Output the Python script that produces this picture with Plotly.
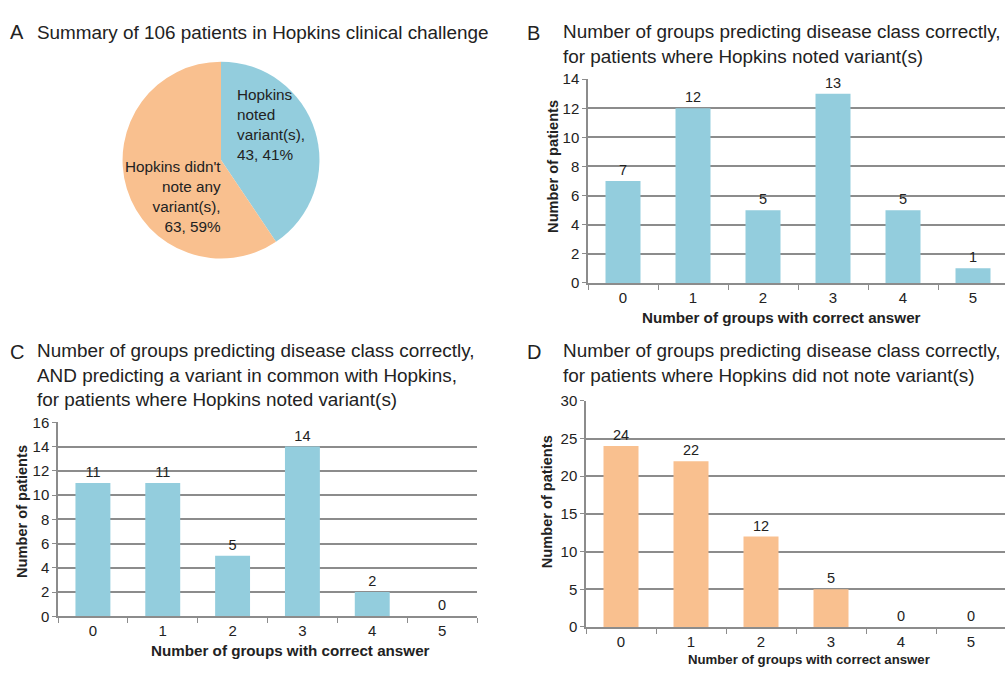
import plotly.graph_objects as go

# ---- data ----
pie_labels = ["Hopkins noted variant(s)", "Hopkins didn't note any variant(s)"]
pie_values = [43, 63]
pie_pct = ["41%", "59%"]

categories = [0, 1, 2, 3, 4, 5]
b_values = [7, 12, 5, 13, 5, 1]
c_values = [11, 11, 5, 14, 2, 0]
d_values = [24, 22, 12, 5, 0, 0]

title_a = "Summary of 106 patients in Hopkins clinical challenge"
title_b = "Number of groups predicting disease class correctly,<br>for patients where Hopkins noted variant(s)"
title_c = ("Number of groups predicting disease class correctly,<br>AND predicting a variant in common with Hopkins,"
           "<br>for patients where Hopkins noted variant(s)")
title_d = "Number of groups predicting disease class correctly,<br>for patients where Hopkins did not note variant(s)"
x_title = "Number of groups with correct answer"
y_title = "Number of patients"

BLUE = "#93CDDD"
ORANGE = "#F9C08F"
GRID = "#8c8c8c"
TXT = "#222222"
FONT = "Liberation Sans, Arial, Helvetica, sans-serif"

W, H = 1005, 673


def px(x):
    return x / W


def py(y):
    return 1 - y / H


fig = go.Figure()

# Pie
fig.add_trace(go.Pie(
    labels=pie_labels, values=pie_values, sort=False, direction="clockwise",
    rotation=0, marker=dict(colors=[BLUE, ORANGE], line=dict(width=0)),
    textinfo="none", hoverinfo="label+value+percent", showlegend=False,
    domain=dict(x=[px(120), px(322)], y=[py(256), py(54)]),
))

bar_specs = [
    (b_values, BLUE, "x", "y"),
    (c_values, BLUE, "x2", "y2"),
    (d_values, ORANGE, "x3", "y3"),
]
for vals, col, xa, ya in bar_specs:
    fig.add_trace(go.Bar(
        x=categories, y=vals, width=0.5, marker=dict(color=col, line=dict(width=0)),
        text=[str(v) for v in vals], textposition="outside", cliponaxis=False,
        textfont=dict(size=14.5, color=TXT, family=FONT), xaxis=xa, yaxis=ya,
        showlegend=False,
    ))

minor_ticks = [i - 0.5 for i in range(7)]


def xaxis_cfg(domain, rng, anchor):
    return dict(
        domain=domain, range=rng, anchor=anchor, tickmode="array", tickvals=categories,
        ticktext=[str(c) for c in categories], ticks="", showgrid=False, zeroline=False,
        showline=True, linecolor=GRID, linewidth=1.5,
        tickfont=dict(size=15, color=TXT, family=FONT),
        minor=dict(tickmode="array", tickvals=minor_ticks, ticks="outside", ticklen=5,
                   tickcolor=GRID, tickwidth=1.2, showgrid=False),
    )


def yaxis_cfg(domain, rng, dtick, anchor):
    return dict(
        domain=domain, range=rng, dtick=dtick, anchor=anchor, showgrid=True,
        gridcolor=GRID, gridwidth=1.5, zeroline=False, showline=True, linecolor=GRID,
        linewidth=1.5, ticks="outside", ticklen=4, tickcolor=GRID,
        tickfont=dict(size=15, color=TXT, family=FONT),
    )


fig.update_layout(
    width=W, height=H, margin=dict(l=0, r=0, t=0, b=0),
    paper_bgcolor="white", plot_bgcolor="white",
    font=dict(family=FONT, color=TXT),
    bargap=0.5,
    xaxis=xaxis_cfg([px(588), 1], [-0.5, -0.5 + 417 / 70], "y"),
    yaxis=yaxis_cfg([py(281), py(72)], [0, 14], 2, "x"),
    xaxis2=xaxis_cfg([px(58), px(477)], [-0.5, 5.5], "y2"),
    yaxis2=yaxis_cfg([py(623), py(424)], [0, 16], 2, "x2"),
    xaxis3=xaxis_cfg([px(586), 1], [-0.5, -0.5 + 419 / 70], "y3"),
    yaxis3=yaxis_cfg([py(634), py(402)], [0, 30], 5, "x3"),
)

ann = []


def add_text(x, y, text, size, xanchor="left", yanchor="middle", bold=False, angle=0, align="left"):
    if bold:
        text = "<b>" + text + "</b>"
    ann.append(dict(x=px(x), y=py(y), xref="paper", yref="paper", text=text, showarrow=False,
                    xanchor=xanchor, yanchor=yanchor, textangle=angle, align=align,
                    font=dict(size=size, color=TXT, family=FONT)))


# Panel letters and titles
TS = 18.9
add_text(8, 24, "A", 20)
add_text(35, 24, title_a, TS)
add_text(525, 25, "B", 20)
add_text(561, 36, title_b, TS)
add_text(8, 352, "C", 20)
add_text(35, 375, title_c, TS)
add_text(525, 352, "D", 20)
add_text(561, 363, title_d, TS)

# Pie labels
add_text(235, 119, "Hopkins<br>noted<br>variant(s),<br>%d, %s" % (pie_values[0], pie_pct[0]), 15.3)
add_text(223, 192, "Hopkins didn't<br>note any<br>variant(s),<br>%d, %s" % (pie_values[1], pie_pct[1]), 15.3,
         xanchor="right", align="right")

# Axis titles
add_text(781, 316, x_title, 15.2, xanchor="center", bold=True)
add_text(553, 162, y_title, 14.6, xanchor="center", bold=True, angle=-90)
add_text(290, 658, x_title, 15.2, xanchor="center", bold=True)
add_text(22, 516, y_title, 14.6, xanchor="center", bold=True, angle=-90)
add_text(809, 667, x_title, 13.2, xanchor="center", bold=True)
add_text(547, 506, y_title, 14.6, xanchor="center", bold=True, angle=-90)

fig.update_layout(annotations=ann)

post = ("document.documentElement.style.margin='0';document.documentElement.style.padding='0';"
        "document.body.style.margin='0';document.body.style.padding='0';"
        "document.body.style.overflow='hidden';document.documentElement.style.overflow='hidden';"
        "var d=document.getElementById('{plot_id}');d.style.position='fixed';"
        "d.style.top='0px';d.style.left='0px';")

fig.write_html("out.html", config={"displayModeBar": False}, post_script=post)
